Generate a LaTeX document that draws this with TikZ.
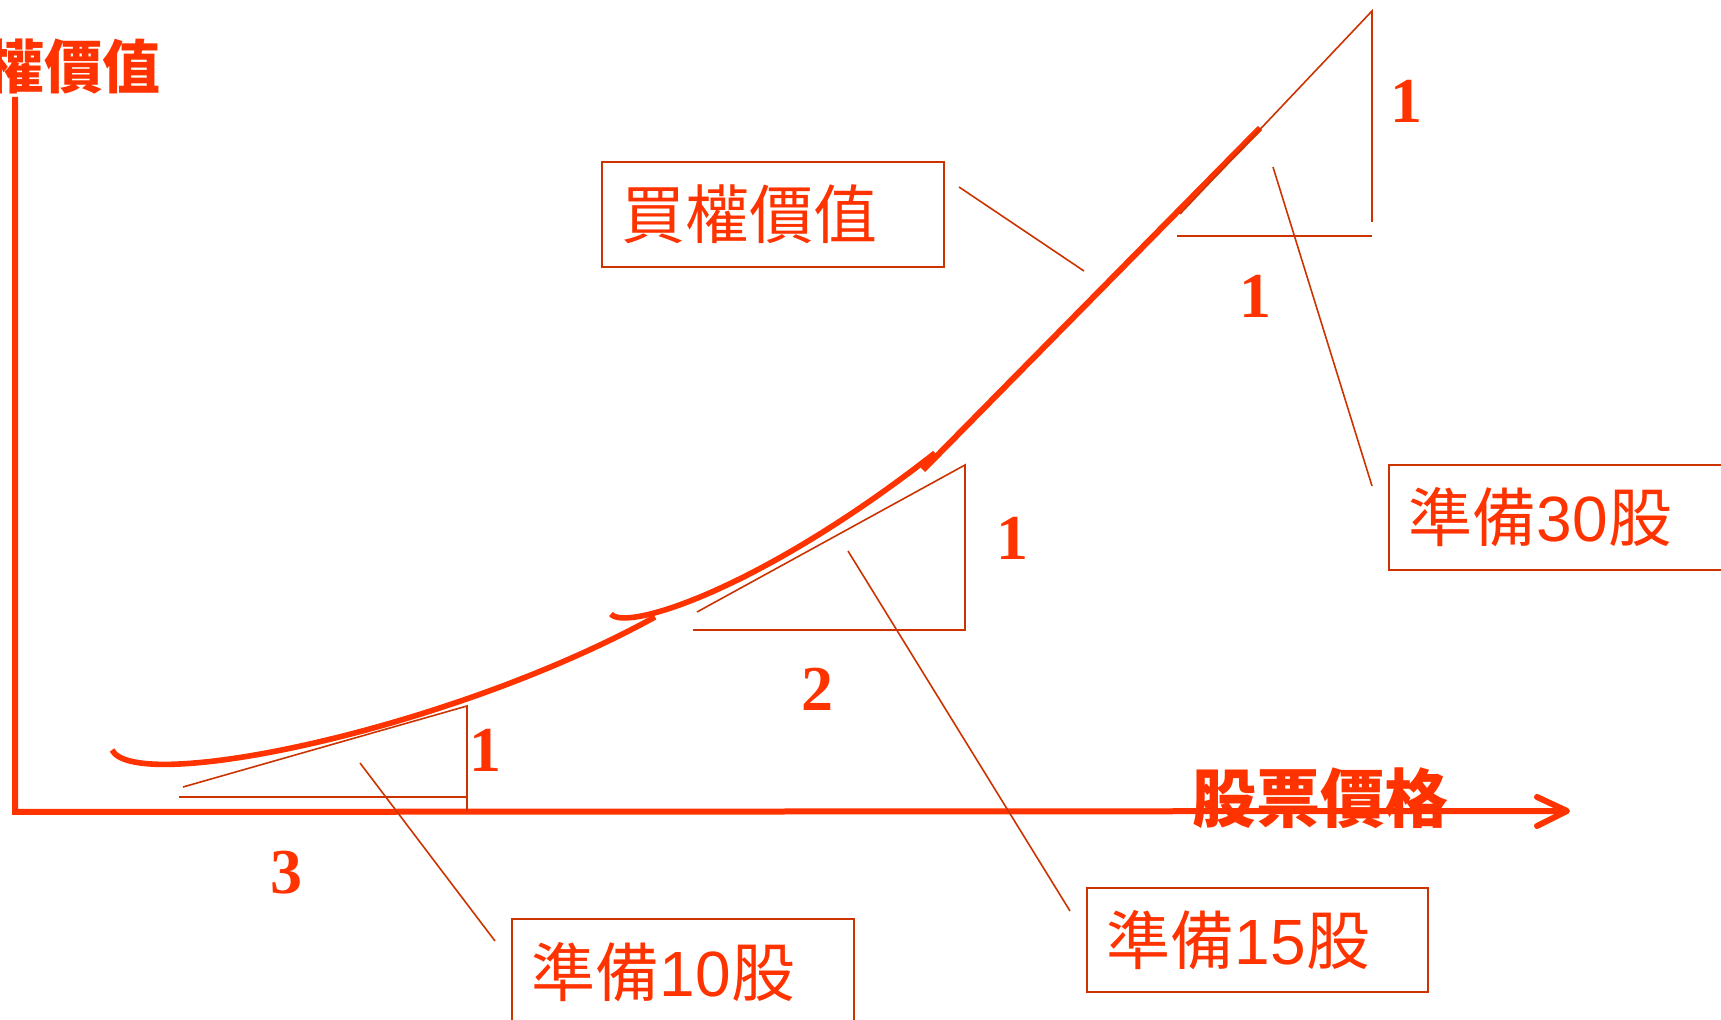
\documentclass[tikz,border=0pt]{standalone}
\usepackage{fontspec}
\setmainfont{Liberation Serif}
\newfontfamily\cjk{Noto Sans CJK TC}
\newfontfamily\arialf{Liberation Sans}
\definecolor{ored}{HTML}{FF3300}
\definecolor{tred}{HTML}{CC3300}
\begin{document}
\begin{tikzpicture}[x=0.5pt,y=-0.5pt,
  thinline/.style={draw=tred, line width=0.8pt},
  thickcurve/.style={draw=ored, line width=2.8pt},
  axisline/.style={draw=ored, line width=3pt},
  box/.style={draw=tred, line width=0.9pt, text=ored, inner xsep=10pt, inner ysep=0pt, anchor=north west, align=left, font=\cjk\fontsize{32}{36}\selectfont},
  num/.style={text=ored, inner sep=0pt, font=\bfseries\fontsize{32}{36}\selectfont},
  axlabel/.style={text=ored, inner sep=0pt}]
\useasboundingbox (0,0) rectangle (1721,1020);

% axes
\coordinate (O) at (15,812);
\coordinate (ytop) at (15,97);
\coordinate (xtip) at (1567,811);
\coordinate (ah1) at (1537,797);
\coordinate (ah2) at (1537,826);
\draw[axisline] (ytop) -- (O) -- (xtip);
\draw[axisline, line cap=round, line join=round] (ah1) -- (xtip) -- (ah2);

\node[axlabel, anchor=east, font=\cjk\bfseries\fontsize{29}{32}\selectfont] (ylab) at (161,67) {買權價值};
\node[axlabel, font=\cjk\bfseries\fontsize{32}{36}\selectfont] (xlab) at (1320,798) {股票價格};

% curve
\draw[thickcurve] (112,750) .. controls (135,795) and (450,730) .. (655,617);
\draw[thickcurve] (611,614) .. controls (625,632) and (760,590) .. (935,453);
\coordinate (s3a) at (923,470);
\coordinate (s3b) at (1260,128);
\draw[thickcurve, line width=3pt] (s3a) -- (s3b);

% small triangle
\coordinate (sA) at (183,787);
\coordinate (sB) at (467,706);
\coordinate (sC) at (467,811);
\coordinate (sD) at (179,797);
\coordinate (sE) at (467,797);
\draw[thinline] (sA) -- (sB) -- (sC);
\draw[thinline] (sD) -- (sE);
\node[num] (n1a) at (485,750) {1};
\node[num] (n3) at (286,873) {3};

% medium triangle
\coordinate (mA) at (697,612);
\coordinate (mB) at (965,465);
\coordinate (mC) at (965,630);
\coordinate (mD) at (693,630);
\draw[thinline] (mA) -- (mB) -- (mC) -- (mD);
\node[num] (n1b) at (1012,538) {1};
\node[num] (n2) at (817,689) {2};

% top triangle
\coordinate (tA) at (1180,214);
\coordinate (tB) at (1372,11);
\coordinate (tC) at (1372,222);
\coordinate (tD) at (1177,236);
\coordinate (tE) at (1372,236);
\draw[thinline] (tA) -- (tB) -- (tC);
\draw[thinline] (tD) -- (tE);
\node[num] (n1c) at (1406,101) {1};
\node[num] (n1d) at (1255,296) {1};

% boxes
\node[box, text width=151pt, minimum height=52.5pt] (bc) at (601,161) {買權價值};
\node[box, text width=186pt, minimum height=52.5pt] (b30) at (1388,464) {準備{\arialf 30}股};
\node[box, text width=150.5pt, minimum height=52pt] (b15) at (1086,887) {準備{\arialf 15}股};
\node[box, text width=151pt, minimum height=53pt] (b10) at (511,918) {準備{\arialf 10}股};

% leaders
\coordinate (l1a) at (360,763);
\coordinate (l1b) at (495,941);
\coordinate (l2a) at (848,551);
\coordinate (l2b) at (1070,911);
\coordinate (l3a) at (1273,167);
\coordinate (l3b) at (1372,486);
\coordinate (l4a) at (959,187);
\coordinate (l4b) at (1084,271);
\draw[thinline] (l1a) -- (l1b);
\draw[thinline] (l2a) -- (l2b);
\draw[thinline] (l3a) -- (l3b);
\draw[thinline] (l4a) -- (l4b);
\end{tikzpicture}
\end{document}
